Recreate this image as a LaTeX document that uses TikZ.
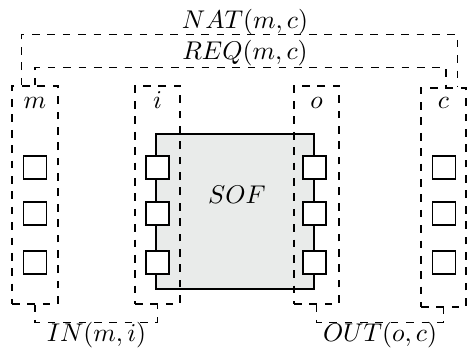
\documentclass[tikz,border=0pt]{standalone}
\usetikzlibrary{positioning}
\definecolor{sofgray}{RGB}{233,235,234}
\def\pxu{0.39pt}
\tikzset{
  dbox/.style={draw, dashed, thin, rectangle, inner sep=0pt, minimum width=45*\pxu},
  sofbox/.style={draw, line width=0.8pt, fill=sofgray, rectangle, inner sep=0pt,
                 minimum width=158*\pxu, minimum height=155*\pxu},
  port/.style={draw, line width=0.5pt, fill=white, rectangle, inner sep=0pt,
               minimum size=23*\pxu},
  lab/.style={anchor=base, inner sep=0pt},
  brk/.style={draw, dashed, thin},
}
\begin{document}
\begin{tikzpicture}[x=\pxu, y=-\pxu]
\useasboundingbox (0,0) rectangle (469,351);
% SOF block
\node[sofbox] (S) at (235,211.5) {};
\node[lab] (sof) at (237,203) {$SOF$};
% dashed groups
\node[dbox, minimum width=46*\pxu, minimum height=218*\pxu] (M) at (35,195) {};
\node[dbox, minimum height=218*\pxu] (I) at (157.5,195) {};
\node[dbox, minimum height=218*\pxu] (O) at (316.5,195) {};
\node[dbox, minimum height=219*\pxu] (C) at (443.5,197.5) {};
% group labels
\node[lab] (lm) at (35,108) {$m$};
\node[lab] (li) at (157.5,108) {$i$};
\node[lab] (lo) at (316.5,108) {$o$};
\node[lab] (lc) at (443.5,108) {$c$};
% ports
\foreach \k/\yy in {1/167.5, 2/213.5, 3/262.5} {
  \node[port] (m\k) at (35,\yy) {};
  \node[port] (i\k) at (157.5,\yy) {};
  \node[port] (o\k) at (314.5,\yy) {};
  \node[port] (c\k) at (444,\yy) {};
}
% brackets
\draw[brk] ([xshift=10*\pxu]M.north west) -- ++(0,-51) -| ([xshift=-9*\pxu]C.north east);
\draw[brk] (M.north) -- ++(0,-18) -| ([xshift=2.5*\pxu]C.north);
\draw[brk] (M.south) -- ++(0,18) -| (I.south);
\draw[brk] (O.south) -- ++(0,18) -| (C.south);
% bracket labels
\node[lab] (nat) at (245,28) {$NAT(m,c)$};
\node[lab] (req) at (245,59) {$REQ(m,c)$};
\node[lab] (in) at (96.5,341) {$IN(m,i)$};
\node[lab] (out) at (380,341) {$OUT(o,c)$};
\end{tikzpicture}
\end{document}
